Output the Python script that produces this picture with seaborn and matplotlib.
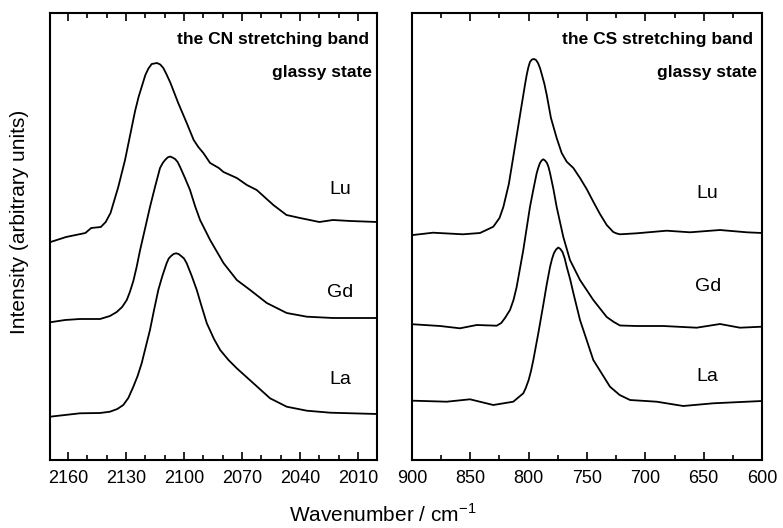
#!/usr/bin/env python3
"""
CN / CS stretching band spectra (glassy state) for La, Gd, Lu
"""

import pandas as pd
import matplotlib
matplotlib.use('Agg')
import matplotlib.pyplot as plt
from matplotlib.ticker import MultipleLocator, NullLocator
import seaborn as sns

# ---- data (intensity in arbitrary units) ----
# CN stretching band
cn_lu_wn = [2169, 2161, 2151, 2148, 2143, 2140.5, 2138, 2134, 2130.5, 2127, 2125.3, 2123.5,
            2120, 2118.4, 2116.7, 2114, 2112.3, 2110.7, 2109, 2107, 2105, 2103, 2100.8,
            2098.6, 2095, 2092.6, 2090, 2086.5, 2082, 2079.6, 2072.7, 2067.5, 2062.4,
            2053.8, 2047, 2040, 2030, 2023, 2014, 2000]
cn_lu_int = [218, 223, 227, 232, 233, 238, 247, 273, 300, 333, 349, 363,
             385, 391.5, 396, 397, 395.5, 392, 385.5, 377, 367, 357, 347,
             337, 320, 313, 307, 297, 292, 288, 282, 275, 270,
             255, 245, 242, 238, 240, 239, 238]

cn_gd_wn = [2169.3, 2161.5, 2153.8, 2143.4, 2138.3, 2134.8, 2132, 2129.6, 2128, 2126.2,
            2124.5, 2122.7, 2120.2, 2117.6, 2115, 2112.4, 2111, 2109.8, 2108.5, 2107.2,
            2106, 2104.6, 2103.3, 2102.1, 2099.5, 2096.9, 2094.3, 2091.7, 2086.5, 2079.6,
            2072.7, 2065.8, 2057.2, 2046.9, 2036.5, 2022.9, 2000.2]
cn_gd_int = [137.7, 140, 141, 141, 144, 148, 153, 160, 168, 179,
             193, 210, 231, 253, 273, 292, 297, 300, 302.5, 303.5,
             302.5, 301, 298, 293.3, 282, 270, 254, 240, 220, 197,
             180, 170, 157, 147, 143.3, 142, 142]

cn_la_wn = [2169.3, 2153.8, 2143.4, 2138.3, 2134.5, 2131.4, 2128.8, 2126.2, 2124, 2121.9,
            2117.6, 2115.5, 2113.3, 2111.2, 2109.0, 2107.9, 2106.7, 2105.4, 2104.1, 2102.8,
            2101.5, 2100, 2098.6, 2096, 2093.4, 2090.8, 2088.2, 2084.5, 2081.3, 2077,
            2072.7, 2064.1, 2055.5, 2046.9, 2036.5, 2024.4, 2000.2]
cn_la_int = [43.3, 46.7, 47, 48.3, 51, 55, 62, 73.3, 84, 96.7,
             130, 150, 170, 184, 196.7, 201.5, 204, 206, 206.7, 206,
             204, 201.5, 196.7, 184, 170, 153, 136.7, 121, 110, 100,
             91.7, 76.7, 61.7, 53.3, 49.3, 47.3, 46]

# CS stretching band
cs_lu_wn = [899.1, 882.0, 856.3, 841.7, 830.3, 825, 821.7, 817, 813.2, 807.4, 804.6, 803.2,
            801.7, 800.3, 798.9, 797.2, 795.4, 793.7, 792.0, 790.3, 788.6, 786.5, 784.5,
            780.9, 776.0, 771.7, 767.4, 761.7, 756.0, 750.3, 744.6, 738.9, 733.1, 727.5,
            724.5, 721.7, 707.4, 681.7, 661.7, 636.0, 613.1, 600]
cs_lu_int = [225, 227.3, 225.7, 227, 233.3, 242, 253, 276, 303, 345, 365, 375,
             385, 392.5, 398, 400.5, 401, 400, 397, 392, 385, 376, 365,
             342, 322, 307, 298.3, 292, 282, 271, 258.3, 246, 235, 228,
             226.5, 225.7, 226.7, 229.3, 227.7, 230, 227.7, 227]

cs_gd_wn = [898.9, 876.0, 858.9, 844.5, 827.4, 823.5, 820.3, 816.0, 813, 810.3, 804.6,
            798.9, 795.9, 793.1, 791.7, 790.3, 788.9, 787.5, 786, 784.3, 783, 781.7,
            778.8, 776.0, 770.3, 764.6, 756.0, 744.6, 733.1, 727, 721.7, 707.4, 684.6,
            656.0, 636.0, 618.9, 600]
cs_gd_int = [135.7, 134, 131.7, 135, 134.3, 137, 142, 150, 160, 173, 210,
             253, 271, 287, 292.5, 297, 299.5, 300.7, 299.5, 297, 293, 287,
             271, 253, 223, 200, 180, 160, 143, 138, 134.5, 134, 134,
             132.3, 136, 132.3, 133.3]

cs_la_wn = [898.9, 870.3, 850.3, 830.3, 813.2, 804.6, 802.5, 800, 798, 796.0, 791.7,
            787.5, 784.6, 781.7, 780, 778.3, 776.5, 774.6, 772.8, 771.0, 769.2, 767.4,
            764.5, 761.7, 756.0, 744.6, 730.3, 722, 713.1, 690.3, 667.5, 641.8, 600]
cs_la_int = [59.3, 58.3, 60.7, 55, 58.3, 66.7, 72, 80, 89, 100, 127,
             155, 175, 193, 201, 207, 210.5, 212.5, 211, 208, 202, 193.3,
             181, 167, 140, 100, 73.3, 65, 60, 58.3, 54, 56.7, 59]

metals = ['Lu', 'Gd', 'La']


def to_df(wn, inten, metal):
    return pd.DataFrame({'wn': wn, 'intensity': inten, 'metal': metal})


cn_df = pd.concat([to_df(cn_lu_wn, cn_lu_int, 'Lu'),
                   to_df(cn_gd_wn, cn_gd_int, 'Gd'),
                   to_df(cn_la_wn, cn_la_int, 'La')])
cs_df = pd.concat([to_df(cs_lu_wn, cs_lu_int, 'Lu'),
                   to_df(cs_gd_wn, cs_gd_int, 'Gd'),
                   to_df(cs_la_wn, cs_la_int, 'La')])

# ---- style ----
sns.set_theme(style='ticks')
plt.rcParams['font.family'] = ['Liberation Sans', 'DejaVu Sans']
plt.rcParams['text.color'] = 'black'
plt.rcParams['axes.labelcolor'] = 'black'
plt.rcParams['xtick.color'] = 'black'
plt.rcParams['mathtext.fontset'] = 'custom'
plt.rcParams['mathtext.rm'] = 'Liberation Sans'

fig = plt.figure(figsize=(7.83, 5.28), dpi=100)
ax1 = fig.add_axes([50 / 783, 68 / 528, 327 / 783, 447 / 528])
ax2 = fig.add_axes([412 / 783, 68 / 528, 350 / 783, 447 / 528])

palette = {'Lu': 'black', 'Gd': 'black', 'La': 'black'}

for ax, df in [(ax1, cn_df), (ax2, cs_df)]:
    sns.lineplot(data=df, x='wn', y='intensity', hue='metal', units='metal',
                 estimator=None, palette=palette, linewidth=1.3,
                 legend=False, ax=ax)
    for ln in ax.lines:
        ln.set_solid_joinstyle('round')
    ax.set_ylim(0, 447)
    ax.yaxis.set_major_locator(NullLocator())
    ax.set_xlabel('')
    ax.set_ylabel('')
    for s in ax.spines.values():
        s.set_linewidth(1.5)
        s.set_color('black')
    ax.tick_params(axis='x', which='both', direction='in', top=True, bottom=True,
                   labelsize=13, pad=7, colors='black', width=1.2)
    ax.tick_params(axis='x', which='major', length=6)
    ax.tick_params(axis='x', which='minor', length=3.5)

ax1.set_xlim(2169.3, 2000.2)
ax1.xaxis.set_major_locator(MultipleLocator(30))
ax1.xaxis.set_minor_locator(MultipleLocator(10))

ax2.set_xlim(900, 600)
ax2.xaxis.set_major_locator(MultipleLocator(50))
ax2.xaxis.set_minor_locator(MultipleLocator(25))

# band titles
ax1.text(0.976, 0.94, 'the CN stretching band', transform=ax1.transAxes,
         ha='right', va='center', fontsize=12.5, fontweight='bold')
ax1.text(0.985, 0.866, 'glassy state', transform=ax1.transAxes,
         ha='right', va='center', fontsize=12.5, fontweight='bold')
ax2.text(0.973, 0.94, 'the CS stretching band', transform=ax2.transAxes,
         ha='right', va='center', fontsize=12.5, fontweight='bold')
ax2.text(0.985, 0.866, 'glassy state', transform=ax2.transAxes,
         ha='right', va='center', fontsize=12.5, fontweight='bold')

# metal labels
left_pos = {'Lu': 0.606, 'Gd': 0.374, 'La': 0.179}
right_pos = {'Lu': 0.597, 'Gd': 0.388, 'La': 0.186}
for m in metals:
    ax1.text(0.888, left_pos[m], m, transform=ax1.transAxes,
             ha='center', va='center', fontsize=14)
    ax2.text(0.845, right_pos[m], m, transform=ax2.transAxes,
             ha='center', va='center', fontsize=14)

fig.text(383 / 783, 1 - 514 / 528, 'Wavenumber / cm$^{\\mathregular{-1}}$', ha='center',
         va='center', fontsize=15)
fig.text(20 / 783, 1 - 222 / 528, 'Intensity (arbitrary units)', ha='center', va='center',
         rotation=90, fontsize=15)

fig.savefig('out.png', dpi=100)
